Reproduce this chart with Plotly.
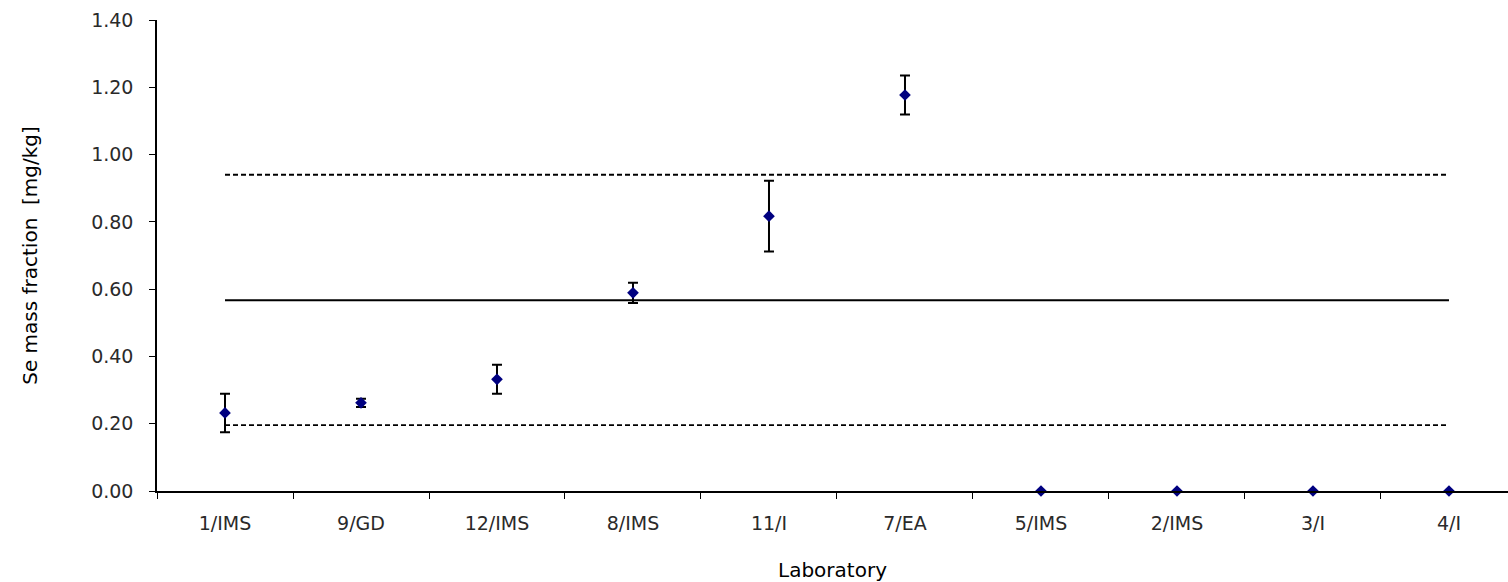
import plotly.graph_objects as go

labs = ["1/IMS", "9/GD", "12/IMS", "8/IMS", "11/I", "7/EA", "5/IMS", "2/IMS", "3/I", "4/I"]
values = [0.232, 0.262, 0.332, 0.589, 0.817, 1.177, 0.0, 0.0, 0.0, 0.0]
errors = [0.057, 0.012, 0.043, 0.030, 0.105, 0.058, 0.0, 0.0, 0.0, 0.0]
ref_value = 0.567
ref_upper = 0.940
ref_lower = 0.196
yticks = [0.0, 0.2, 0.4, 0.6, 0.8, 1.0, 1.2, 1.4]

font = "DejaVu Sans"

fig = go.Figure()
line_x = [labs[0], labs[-1]]
fig.add_trace(go.Scatter(x=line_x, y=[ref_value, ref_value], mode="lines",
                         line=dict(color="black", width=2), showlegend=False, hoverinfo="skip"))
fig.add_trace(go.Scatter(x=line_x, y=[ref_upper, ref_upper], mode="lines",
                         line=dict(color="black", width=1.8, dash="5px,3px"), showlegend=False, hoverinfo="skip"))
fig.add_trace(go.Scatter(x=line_x, y=[ref_lower, ref_lower], mode="lines",
                         line=dict(color="black", width=1.8, dash="5px,3px"), showlegend=False, hoverinfo="skip"))
fig.add_trace(go.Scatter(
    x=labs, y=values, mode="markers",
    marker=dict(symbol="diamond", size=9, color="#000080"),
    error_y=dict(type="data", array=errors, visible=True, color="black", thickness=2, width=5),
    showlegend=False, cliponaxis=False,
))

fig.update_layout(
    width=1508, height=582,
    margin=dict(l=157, r=0, t=20, b=91),
    plot_bgcolor="white", paper_bgcolor="white",
    font=dict(family=font, size=19, color="#2a2a2a"),
)
fig.update_xaxes(
    type="category", categoryorder="array", categoryarray=labs,
    range=[-0.5, 9.434], showgrid=False, showline=True, linecolor="black", linewidth=1.5,
    ticks="outside", tickson="boundaries", ticklen=6, tickcolor="black",
    ticklabelstandoff=14,
    title=dict(text="Laboratory", font=dict(size=20, color="black"), standoff=30),
    zeroline=False, automargin=False,
)
fig.update_yaxes(
    range=[0, 1.4], tickvals=yticks, tickformat=".2f", showgrid=False,
    showline=True, linecolor="black", linewidth=1.5, ticks="outside", ticklen=6, tickcolor="black",
    ticklabelstandoff=12,
    title=dict(text="Se mass fraction  [mg/kg]", font=dict(size=20, color="black"), standoff=48),
    zeroline=False, automargin=False,
)
fig.write_html("out.html")
